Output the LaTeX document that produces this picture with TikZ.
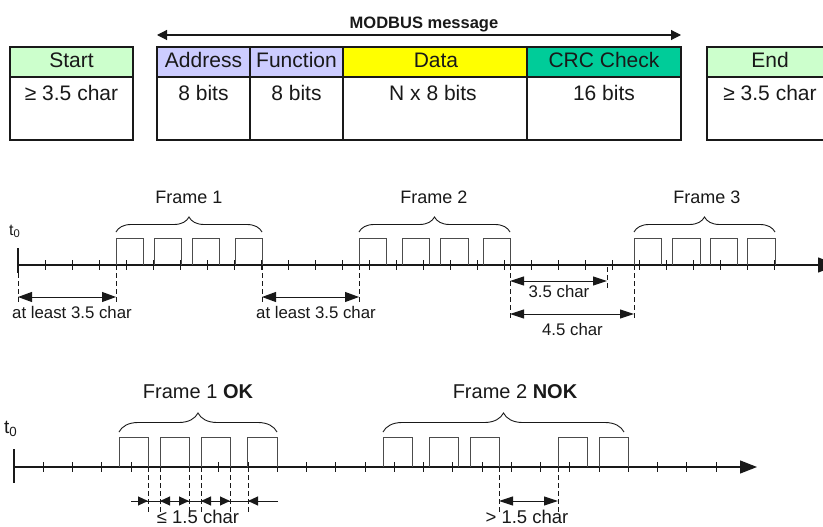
\documentclass[tikz,border=0pt]{standalone}
\usepackage{fontspec}
\setmainfont{Liberation Sans}
\usetikzlibrary{arrows.meta,decorations.pathreplacing}
\definecolor{startgreen}{HTML}{CCFFCC}
\definecolor{lavender}{HTML}{CCCCFF}
\definecolor{datayellow}{HTML}{FFFF00}
\definecolor{crcgreen}{HTML}{00CC99}
\definecolor{pulsegray}{gray}{0.3}
\definecolor{ink}{gray}{0.1}
\begin{document}
\begin{tikzpicture}[x=1pt,y=-1pt,
  hcell/.style={draw=ink, line width=1.2pt, inner sep=0pt, outer sep=0pt, minimum height=30pt},
  bcell/.style={draw=ink, line width=1.2pt, inner sep=0pt, outer sep=0pt, minimum height=63pt},
  tabtext/.style={font=\fontsize{21}{25}\selectfont, text=ink, anchor=base, inner sep=0pt},
  frametext/.style={font=\fontsize{18}{22}\selectfont, text=ink, anchor=base, inner sep=0pt},
  frametextB/.style={font=\fontsize{20}{24}\selectfont, text=ink, anchor=base, inner sep=0pt},
  dimtext/.style={font=\fontsize{16.8}{20}\selectfont, text=ink, anchor=base, inner sep=0pt},
  dimtextB/.style={font=\fontsize{18.5}{22}\selectfont, text=ink, anchor=base, inner sep=0pt},
  axisline/.style={draw=ink, line width=1.3pt},
  tickline/.style={draw=ink, line width=1pt},
  pulse/.style={draw=pulsegray, line width=1pt},
  dashline/.style={draw=ink, line width=1pt, dash pattern=on 5pt off 3pt},
  bracestyle/.style={draw=ink, line width=0.9pt, decorate, decoration={brace, amplitude=#1}},
  dimA/.style={draw=ink, line width=1pt, {Triangle[length=14pt,width=10pt]}-{Triangle[length=14pt,width=10pt]}},
  dimB/.style={draw=ink, line width=1pt, {Triangle[length=10pt,width=9pt]}-{Triangle[length=10pt,width=9pt]}},
  dimR/.style={draw=ink, line width=1pt, -{Triangle[length=10pt,width=9pt]}},
  dimC/.style={draw=ink, line width=1pt, {Triangle[length=14pt,width=9pt]}-{Triangle[length=14pt,width=9pt]}},
]
\clip (0,0) rectangle (823,527);
\fill[white] (0,0) rectangle (823,527);

% ---------------- Table ----------------
\coordinate (mL) at (157,35);
\coordinate (mR) at (681,35);
\draw[draw=ink, line width=1.1pt, {Triangle[length=10pt,width=10pt]}-{Triangle[length=10pt,width=10pt]}] (mL) -- (mR);
\node[font=\fontsize{16.5}{20}\selectfont\bfseries, text=ink, anchor=base, inner sep=0pt] (msg) at (424,29) {MODBUS message};

\node[hcell, fill=startgreen, minimum width=123pt] (sH) at (71.5,62) {};
\node[bcell, minimum width=123pt] (sB) at (71.5,108.5) {};
\node[hcell, fill=lavender, minimum width=93pt] (aH) at (203.5,62) {};
\node[bcell, minimum width=93pt] (aB) at (203.5,108.5) {};
\node[hcell, fill=lavender, minimum width=93pt] (fH) at (296.5,62) {};
\node[bcell, minimum width=93pt] (fB) at (296.5,108.5) {};
\node[hcell, fill=datayellow, minimum width=184pt] (dH) at (435,62) {};
\node[bcell, minimum width=184pt] (dB) at (435,108.5) {};
\node[hcell, fill=crcgreen, minimum width=154pt] (cH) at (604,62) {};
\node[bcell, minimum width=154pt] (cB) at (604,108.5) {};
\node[hcell, fill=startgreen, minimum width=126pt] (eH) at (770,62) {};
\node[bcell, minimum width=126pt] (eB) at (770,108.5) {};

\node[tabtext] (tS) at (71.5,68) {Start};
\node[tabtext] (tA) at (203.5,68) {Address};
\node[tabtext] (tF) at (296.5,68) {Function};
\node[tabtext] (tD) at (436,68) {Data};
\node[tabtext] (tC) at (604,68) {CRC Check};
\node[tabtext] (tE) at (770,68) {End};
\node[tabtext] (vS) at (71.5,101) {≥ 3.5 char};
\node[tabtext] (vA) at (203.5,101) {8 bits};
\node[tabtext] (vF) at (296.5,101) {8 bits};
\node[tabtext] (vD) at (433,101) {N x 8 bits};
\node[tabtext] (vC) at (604,101) {16 bits};
\node[tabtext] (vE) at (770,101) {≥ 3.5 char};

% ---------------- Timeline 1 ----------------
\coordinate (t1s) at (18,265);
\coordinate (t1e) at (838,265);
\coordinate (t1top) at (18,248);
\coordinate (t1bot) at (18,273);
\draw[axisline, -{Triangle[length=20pt,width=15pt]}] (t1s) -- (t1e);
\draw[axisline] (t1top) -- (t1bot);
\node[font=\fontsize{16}{19}\selectfont, text=ink, anchor=base west, inner sep=0pt] (t0a) at (9,235) {t\textsubscript{0}};
\foreach \i in {1,...,28} \draw[tickline] ({18+27*\i},260) -- ++(0,10);
\foreach \a/\b in {116/143,154/181,192/219,235/262, 359/386,402/429,440/468,483/510, 634/661,672/700,710/737,747/775}
  \draw[pulse] (\a,265) -- (\a,238) -- (\b,238) -- (\b,265);

\draw[bracestyle=15pt] (116,232) -- (262,232);
\draw[bracestyle=15pt] (359,232) -- (510,232);
\draw[bracestyle=15pt] (634,232) -- (775,232);
\node[frametext] (fr1) at (189,203) {Frame 1};
\node[frametext] (fr2) at (434,203) {Frame 2};
\node[frametext] (fr3) at (707,203) {Frame 3};

\foreach \x in {18,116,262,359} \draw[dashline] (\x,265) -- (\x,302);
\draw[dashline] (510,265) -- (510,320);
\draw[dashline] (607,267) -- (607,289);
\draw[dashline] (634,265) -- (634,320);

\coordinate (g1a) at (18,297);  \coordinate (g1b) at (116,297);
\coordinate (g2a) at (262,297); \coordinate (g2b) at (359,297);
\coordinate (g3a) at (510,281); \coordinate (g3b) at (607,281);
\coordinate (g4a) at (510,314); \coordinate (g4b) at (634,314);
\draw[dimA] (g1a) -- (g1b);
\draw[dimA] (g2a) -- (g2b);
\draw[dimC] (g3a) -- (g3b);
\draw[dimC] (g4a) -- (g4b);
\node[dimtext] (l1) at (72,318) {at least 3.5 char};
\node[dimtext] (l2) at (316,318) {at least 3.5 char};
\node[dimtext] (l3) at (559,297) {3.5 char};
\node[dimtext] (l4) at (572.5,335) {4.5 char};

% ---------------- Timeline 2 ----------------
\coordinate (t2s) at (14,467);
\coordinate (t2e) at (757,467);
\coordinate (t2top) at (14,449);
\coordinate (t2bot) at (14,483);
\draw[axisline, -{Triangle[length=17pt,width=13pt]}] (t2s) -- (t2e);
\draw[axisline, line width=1.6pt] (t2top) -- (t2bot);
\node[font=\fontsize{19}{22}\selectfont, text=ink, anchor=base west, inner sep=0pt] (t0b) at (4,433) {t\textsubscript{0}};
\foreach \i in {1,...,24} \draw[tickline] ({14+29.25*\i},462) -- ++(0,10);
\foreach \a/\b in {119/148,160/189,201/230,247/277, 383/412,429/458,470/499,558/587,599/628}
  \draw[pulse] (\a,467) -- (\a,437) -- (\b,437) -- (\b,467);

\draw[bracestyle=19pt] (119,432) -- (277,432);
\draw[bracestyle=19pt] (383,432) -- (624,432);
\node[frametextB] (fr1b) at (198,398) {Frame 1 \textbf{OK}};
\node[frametextB] (fr2b) at (515,398) {Frame 2 \textbf{NOK}};

\foreach \x in {148,160,189,201,230,248,499,558} \draw[dashline] (\x,467) -- (\x,512);

\coordinate (h0) at (131,501); \coordinate (h1) at (148,501);
\coordinate (h2) at (160,501); \coordinate (h3) at (189,501);
\coordinate (h4) at (201,501); \coordinate (h5) at (230,501);
\coordinate (h6) at (248,501); \coordinate (h7) at (278,501);
\draw[draw=ink, line width=1pt] (h0) -- (h7);
\draw[dimR] (h0) -- (h1);
\draw[dimB] (h2) -- (h3);
\draw[dimB] (h4) -- (h5);
\draw[dimR] (h7) -- (h6);
\coordinate (k1) at (499,501); \coordinate (k2) at (558,501);
\draw[dimC] (k1) -- (k2);
\node[dimtextB] (l5) at (198,523) {≤ 1.5 char};
\node[dimtextB] (l6) at (527,523) {> 1.5 char};
\end{tikzpicture}
\end{document}
